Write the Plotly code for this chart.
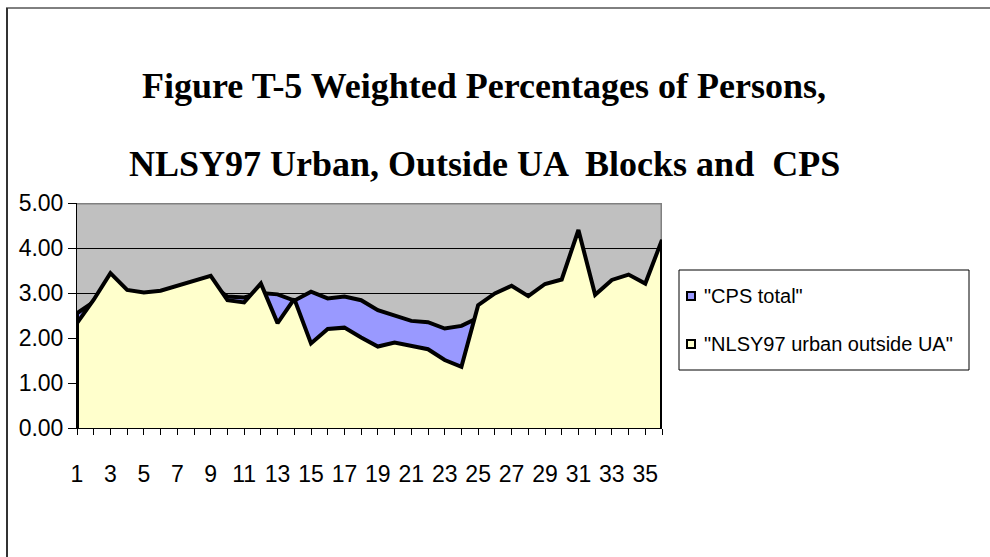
import plotly.graph_objects as go

# ---- data ----
categories = list(range(1, 37))
tick_labels = [str(c) if c % 2 == 1 else "" for c in categories]
series_names = ['"CPS total"', '"NLSY97 urban outside UA"']
cps_total = [2.55, 2.80, 3.20, 2.95, 2.90, 2.95, 3.05, 3.15, 3.20, 2.92, 2.90, 3.00,
             2.97, 2.83, 3.03, 2.88, 2.92, 2.84, 2.62, 2.49, 2.38, 2.35, 2.21, 2.27,
             2.45, 2.85, 3.00, 2.80, 3.05, 3.15, 4.10, 2.85, 3.15, 3.25, 3.05, 4.00]
nlsy_urban = [2.33, 2.85, 3.44, 3.07, 3.01, 3.05, 3.16, 3.29, 3.38, 2.84, 2.79, 3.21,
              2.33, 2.87, 1.88, 2.20, 2.23, 2.01, 1.81, 1.90, 1.82, 1.75, 1.51, 1.36,
              2.73, 2.99, 3.16, 2.93, 3.20, 3.30, 4.40, 2.96, 3.29, 3.41, 3.21, 4.18]
title_lines = ["Figure T-5 Weighted Percentages of Persons,",
               "NLSY97 Urban, Outside UA  Blocks and  CPS"]

# ---- geometry helpers (pixels -> paper) ----
W, H = 990, 557
L, R, T, B = 77, 662, 203, 428
def px_x(px):
    return (px - L) / (R - L)
def px_y(py):
    return (B - py) / (B - T)

fill_colors = ["#9999FF", "#FFFFCC"]

fig = go.Figure()
for name, vals, col in zip(series_names, [cps_total, nlsy_urban], fill_colors):
    xs = [categories[0]] + categories + [categories[-1]]
    ys = [0] + vals + [0]
    fig.add_trace(go.Scatter(
        x=xs, y=ys, mode="lines", fill="toself", fillcolor=col,
        line=dict(color="black", width=4), name=name, showlegend=False,
        hoverinfo="skip"))

shapes = []
# plot frame: gray top and right
shapes.append(dict(type="line", xref="x", yref="y", x0=1, x1=36, y0=5, y1=5,
                   line=dict(color="#808080", width=3), layer="above"))
shapes.append(dict(type="line", xref="x", yref="y", x0=36, x1=36, y0=0, y1=5,
                   line=dict(color="#808080", width=3), layer="below"))
# outer chart border (top and left, extends beyond image)
shapes.append(dict(type="line", xref="paper", yref="paper",
                   x0=px_x(6), x1=px_x(1000), y0=px_y(8), y1=px_y(8),
                   line=dict(color="black", width=1)))
shapes.append(dict(type="line", xref="paper", yref="paper",
                   x0=px_x(7), x1=px_x(7), y0=px_y(8), y1=px_y(570),
                   line=dict(color="#333333", width=2)))
# legend box
shapes.append(dict(type="rect", xref="paper", yref="paper",
                   x0=px_x(679), x1=px_x(969), y0=px_y(370), y1=px_y(270),
                   line=dict(color="black", width=1), fillcolor="white"))
annotations = []
legend_rows = [296, 344]
for name, col, yc in zip(series_names, fill_colors, legend_rows):
    shapes.append(dict(type="rect", xref="paper", yref="paper",
                       x0=px_x(687), x1=px_x(695), y0=px_y(yc + 4), y1=px_y(yc - 4),
                       line=dict(color="black", width=2), fillcolor=col))
    annotations.append(dict(xref="paper", yref="paper", x=px_x(702), y=px_y(yc),
                            text=name, showarrow=False, xanchor="left", yanchor="middle",
                            font=dict(family="Liberation Sans, Arial", size=20, color="black")))

for line, yc in zip(title_lines, [86, 164]):
    annotations.append(dict(xref="paper", yref="paper", x=px_x(484), y=px_y(yc),
                            text="<b>" + line + "</b>", showarrow=False,
                            xanchor="center", yanchor="middle",
                            font=dict(family="Liberation Serif, Times New Roman", size=36,
                                      color="black")))

fig.update_layout(
    width=W, height=H,
    margin=dict(l=L, r=W - R, t=T, b=H - B, autoexpand=False),
    paper_bgcolor="white", plot_bgcolor="#C0C0C0",
    shapes=shapes, annotations=annotations, showlegend=False,
    font=dict(family="Liberation Sans, Arial", color="black"),
)
fig.update_xaxes(range=[1, 36], tickmode="array", tickvals=categories, ticktext=tick_labels,
                 ticks="outside", ticklen=6, tickcolor="black", tickwidth=1,
                 showline=True, linecolor="black", linewidth=1, showgrid=False,
                 zeroline=False, tickfont=dict(size=23), ticklabelstandoff=19)
fig.update_yaxes(range=[0, 5], tickmode="array", tickvals=[0, 1, 2, 3, 4, 5],
                 tickformat=".2f", ticks="outside", ticklen=8, tickcolor="black",
                 showline=True, linecolor="black", linewidth=1,
                 showgrid=True, gridcolor="black", gridwidth=1, zeroline=False,
                 tickfont=dict(size=23))

fig.write_html("out.html", config={"displayModeBar": False},
               post_script="document.body.style.margin='0';")
